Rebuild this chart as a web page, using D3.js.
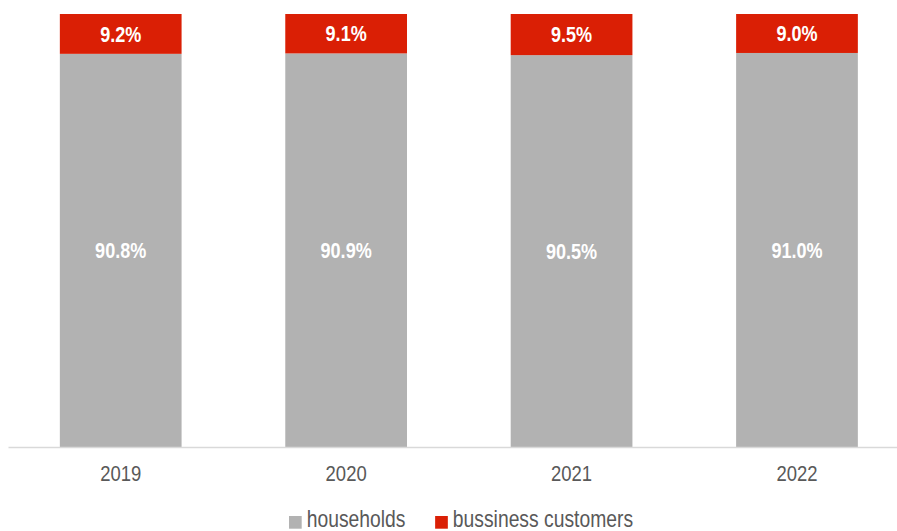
<!DOCTYPE html>
<html>
<head>
<meta charset="utf-8">
<script src="https://cdn.jsdelivr.net/npm/d3@7"></script>
<style>
  html, body { margin: 0; padding: 0; background: #fff; }
  svg { display: block; font-family: "Liberation Sans", Arial, sans-serif; }
</style>
</head>
<body>
<svg id="chart" width="897" height="531"></svg>
<script>
// Share of customers by segment, per year (percent)
const years = ["2019", "2020", "2021", "2022"];
const households = [90.8, 90.9, 90.5, 91.0];
const business = [9.2, 9.1, 9.5, 9.0];
const seriesNames = ["households", "bussiness customers"];
const seriesColors = ["#b2b2b2", "#da1f05"];

// narrow lettering: horizontal squeeze applied to every label
const NARROW = 0.84;

const svg = d3.select("#chart");
const x0 = 8, x1 = 909.7, yTop = 14, yBottom = 447;

const x = d3.scaleBand().domain(years).range([x0, x1]).paddingInner(0.46).paddingOuter(0.23);
const y = d3.scaleLinear().domain([0, 100]).range([yBottom, yTop]);

const rows = years.map((yr, i) => ({ year: yr, households: households[i], business: business[i] }));
const stack = d3.stack().keys(["households", "business"])(rows);

const g = svg.append("g");
stack.forEach((layer, li) => {
  g.append("g").selectAll("rect").data(layer).join("rect")
    .attr("x", d => x(d.data.year))
    .attr("width", x.bandwidth())
    .attr("y", d => y(d[1]))
    .attr("height", d => y(d[0]) - y(d[1]))
    .attr("fill", seriesColors[li]);

  g.append("g").selectAll("text").data(layer).join("text")
    .attr("transform", d => `translate(${x(d.data.year) + x.bandwidth() / 2},${(y(d[0]) + y(d[1])) / 2}) scale(${NARROW},1)`)
    .attr("dy", "0.36em")
    .attr("text-anchor", "middle")
    .attr("fill", "#ffffff")
    .attr("font-weight", "bold")
    .attr("font-size", 21.5)
    .text(d => (d[1] - d[0]).toFixed(1) + "%");
});

// Category axis
const axis = svg.append("g").attr("transform", `translate(0,${yBottom})`)
  .call(d3.axisBottom(x).tickSize(0).tickPadding(0));
axis.select(".domain").attr("stroke", "#d9d9d9").attr("stroke-width", 1.3);
axis.selectAll(".tick text")
  .attr("y", 0).attr("dy", 0)
  .attr("transform", `translate(0,33.5) scale(${NARROW},1)`)
  .attr("fill", "#595959").attr("font-size", 22)
  .attr("font-family", "inherit");

// Legend
const legend = svg.append("g").attr("transform", "translate(289,0)");
let lx = 0;
seriesNames.forEach((name, i) => {
  legend.append("rect").attr("x", lx).attr("y", 516).attr("width", 12.7).attr("height", 12.7)
    .attr("fill", seriesColors[i]);
  const t = legend.append("text")
    .attr("transform", `translate(${lx + 17.7},526.5) scale(${NARROW},1)`)
    .attr("fill", "#595959").attr("font-size", 23).text(name);
  lx += 17.7 + t.node().getComputedTextLength() * NARROW + 29.7;
});
</script>
</body>
</html>
